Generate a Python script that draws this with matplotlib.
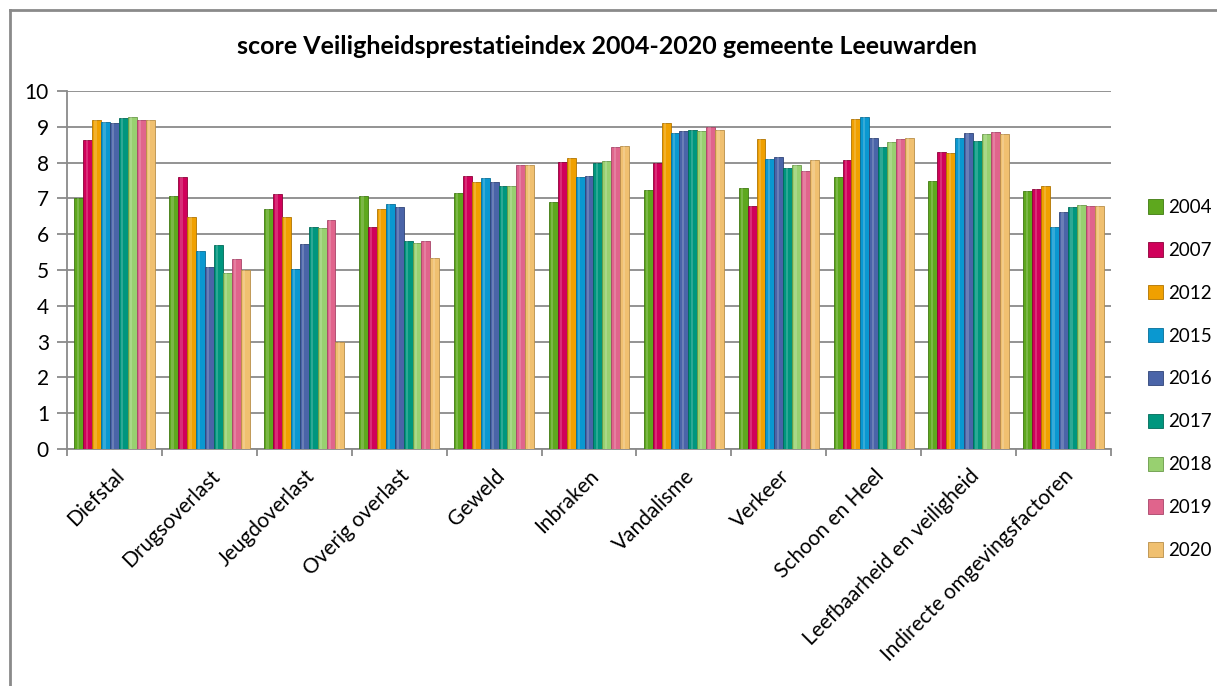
import matplotlib.pyplot as plt
import numpy as np
from matplotlib.lines import Line2D

categories = ['Diefstal', 'Drugsoverlast', 'Jeugdoverlast', 'Overig overlast', 'Geweld',
              'Inbraken', 'Vandalisme', 'Verkeer', 'Schoon en Heel',
              'Leefbaarheid en veiligheid', 'Indirecte omgevingsfactoren']
years = ['2004', '2007', '2012', '2015', '2016', '2017', '2018', '2019', '2020']

s2004 = [7.0, 7.07, 6.71, 7.08, 7.14, 6.9, 7.23, 7.3, 7.59, 7.49, 7.21]
s2007 = [8.63, 7.59, 7.12, 6.2, 7.62, 8.03, 7.99, 6.8, 8.06, 8.31, 7.27]
s2012 = [9.19, 6.49, 6.49, 6.69, 7.46, 8.12, 9.1, 8.65, 9.23, 8.28, 7.36]
s2015 = [9.14, 5.54, 5.04, 6.83, 7.56, 7.59, 8.82, 8.1, 9.28, 8.68, 6.2]
s2016 = [9.1, 5.07, 5.73, 6.77, 7.47, 7.62, 8.87, 8.15, 8.68, 8.82, 6.61]
s2017 = [9.24, 5.7, 6.21, 5.82, 7.36, 7.99, 8.91, 7.85, 8.43, 8.59, 6.77]
s2018 = [9.26, 4.93, 6.16, 5.76, 7.36, 8.04, 8.87, 7.92, 8.58, 8.79, 6.82]
s2019 = [9.19, 5.31, 6.39, 5.82, 7.93, 8.44, 8.99, 7.77, 8.65, 8.86, 6.8]
s2020 = [9.19, 5.0, 3.0, 5.34, 7.93, 8.46, 8.91, 8.06, 8.68, 8.79, 6.8]

series = [s2004, s2007, s2012, s2015, s2016, s2017, s2018, s2019, s2020]
colors = ['#5ea81e', '#d0005a', '#f0a000', '#0a98d0', '#4a64a8',
          '#00967e', '#98d070', '#e0648c', '#f0c070']
edges = ['#3f7a10', '#8e0038', '#b07400', '#066e98', '#2f4478',
         '#006a58', '#6a9a48', '#a84468', '#b88e48']

plt.rcParams['font.family'] = ['Lato', 'DejaVu Sans']

fig = plt.figure(figsize=(12.17, 6.86), dpi=100)
ax = fig.add_axes([67 / 1217, 1 - 449 / 686, (1111 - 67) / 1217, (449 - 91) / 686])

x = np.arange(len(categories))
bw = 0.094
for i, (vals, c, e) in enumerate(zip(series, colors, edges)):
    offs = (i - 4) * bw
    ax.bar(x + offs, vals, width=bw, color=c, edgecolor=e, linewidth=0.6,
           label=years[i], zorder=3)
    # light highlight strip for a rounded look
    ax.bar(x + offs - bw * 0.12, vals, width=bw * 0.25, color='white', alpha=0.18,
           linewidth=0, zorder=4)

ax.set_xlim(-0.5, len(categories) - 0.5)
ax.set_ylim(0, 10)
ax.set_yticks(range(0, 11))
ax.yaxis.grid(True, color='#8a8a8a', linewidth=1.3, zorder=0)
ax.set_axisbelow(True)

ax.set_xticks(x)
ax.set_xticklabels(categories, rotation=45, ha='right', rotation_mode='anchor', fontsize=15)
ax.set_xticks(np.arange(-0.5, len(categories), 1), minor=True)
ax.tick_params(axis='x', which='major', length=0, pad=12)
ax.tick_params(axis='x', which='minor', length=5, color='#8a8a8a', width=1.3)
ax.tick_params(axis='y', length=7, color='#8a8a8a', width=1.3, labelsize=15, pad=6)

for side in ['top', 'right']:
    ax.spines[side].set_visible(False)
for side in ['left', 'bottom']:
    ax.spines[side].set_color('#8a8a8a')
    ax.spines[side].set_linewidth(1.3)

fig.text(607 / 1217, 1 - 47 / 686, 'score Veiligheidsprestatieindex 2004-2020 gemeente Leeuwarden',
         ha='center', va='center', fontsize=18, fontweight='bold')

handles, labels = ax.get_legend_handles_labels()
leg = fig.legend(handles, labels, loc='center left', bbox_to_anchor=(1140 / 1217, 1 - 379 / 686),
                 frameon=False, fontsize=13.5, handlelength=0.8, handleheight=0.8,
                 handletextpad=0.3, labelspacing=1.38, borderaxespad=0)

# outer chart frame
fig.add_artist(Line2D([10 / 1217, 10 / 1217], [0, 1 - 10 / 686], transform=fig.transFigure,
                      color='#8a8a8a', linewidth=2))
fig.add_artist(Line2D([10 / 1217, 1], [1 - 10 / 686, 1 - 10 / 686], transform=fig.transFigure,
                      color='#8a8a8a', linewidth=2))

fig.savefig('out.png', dpi=100)
